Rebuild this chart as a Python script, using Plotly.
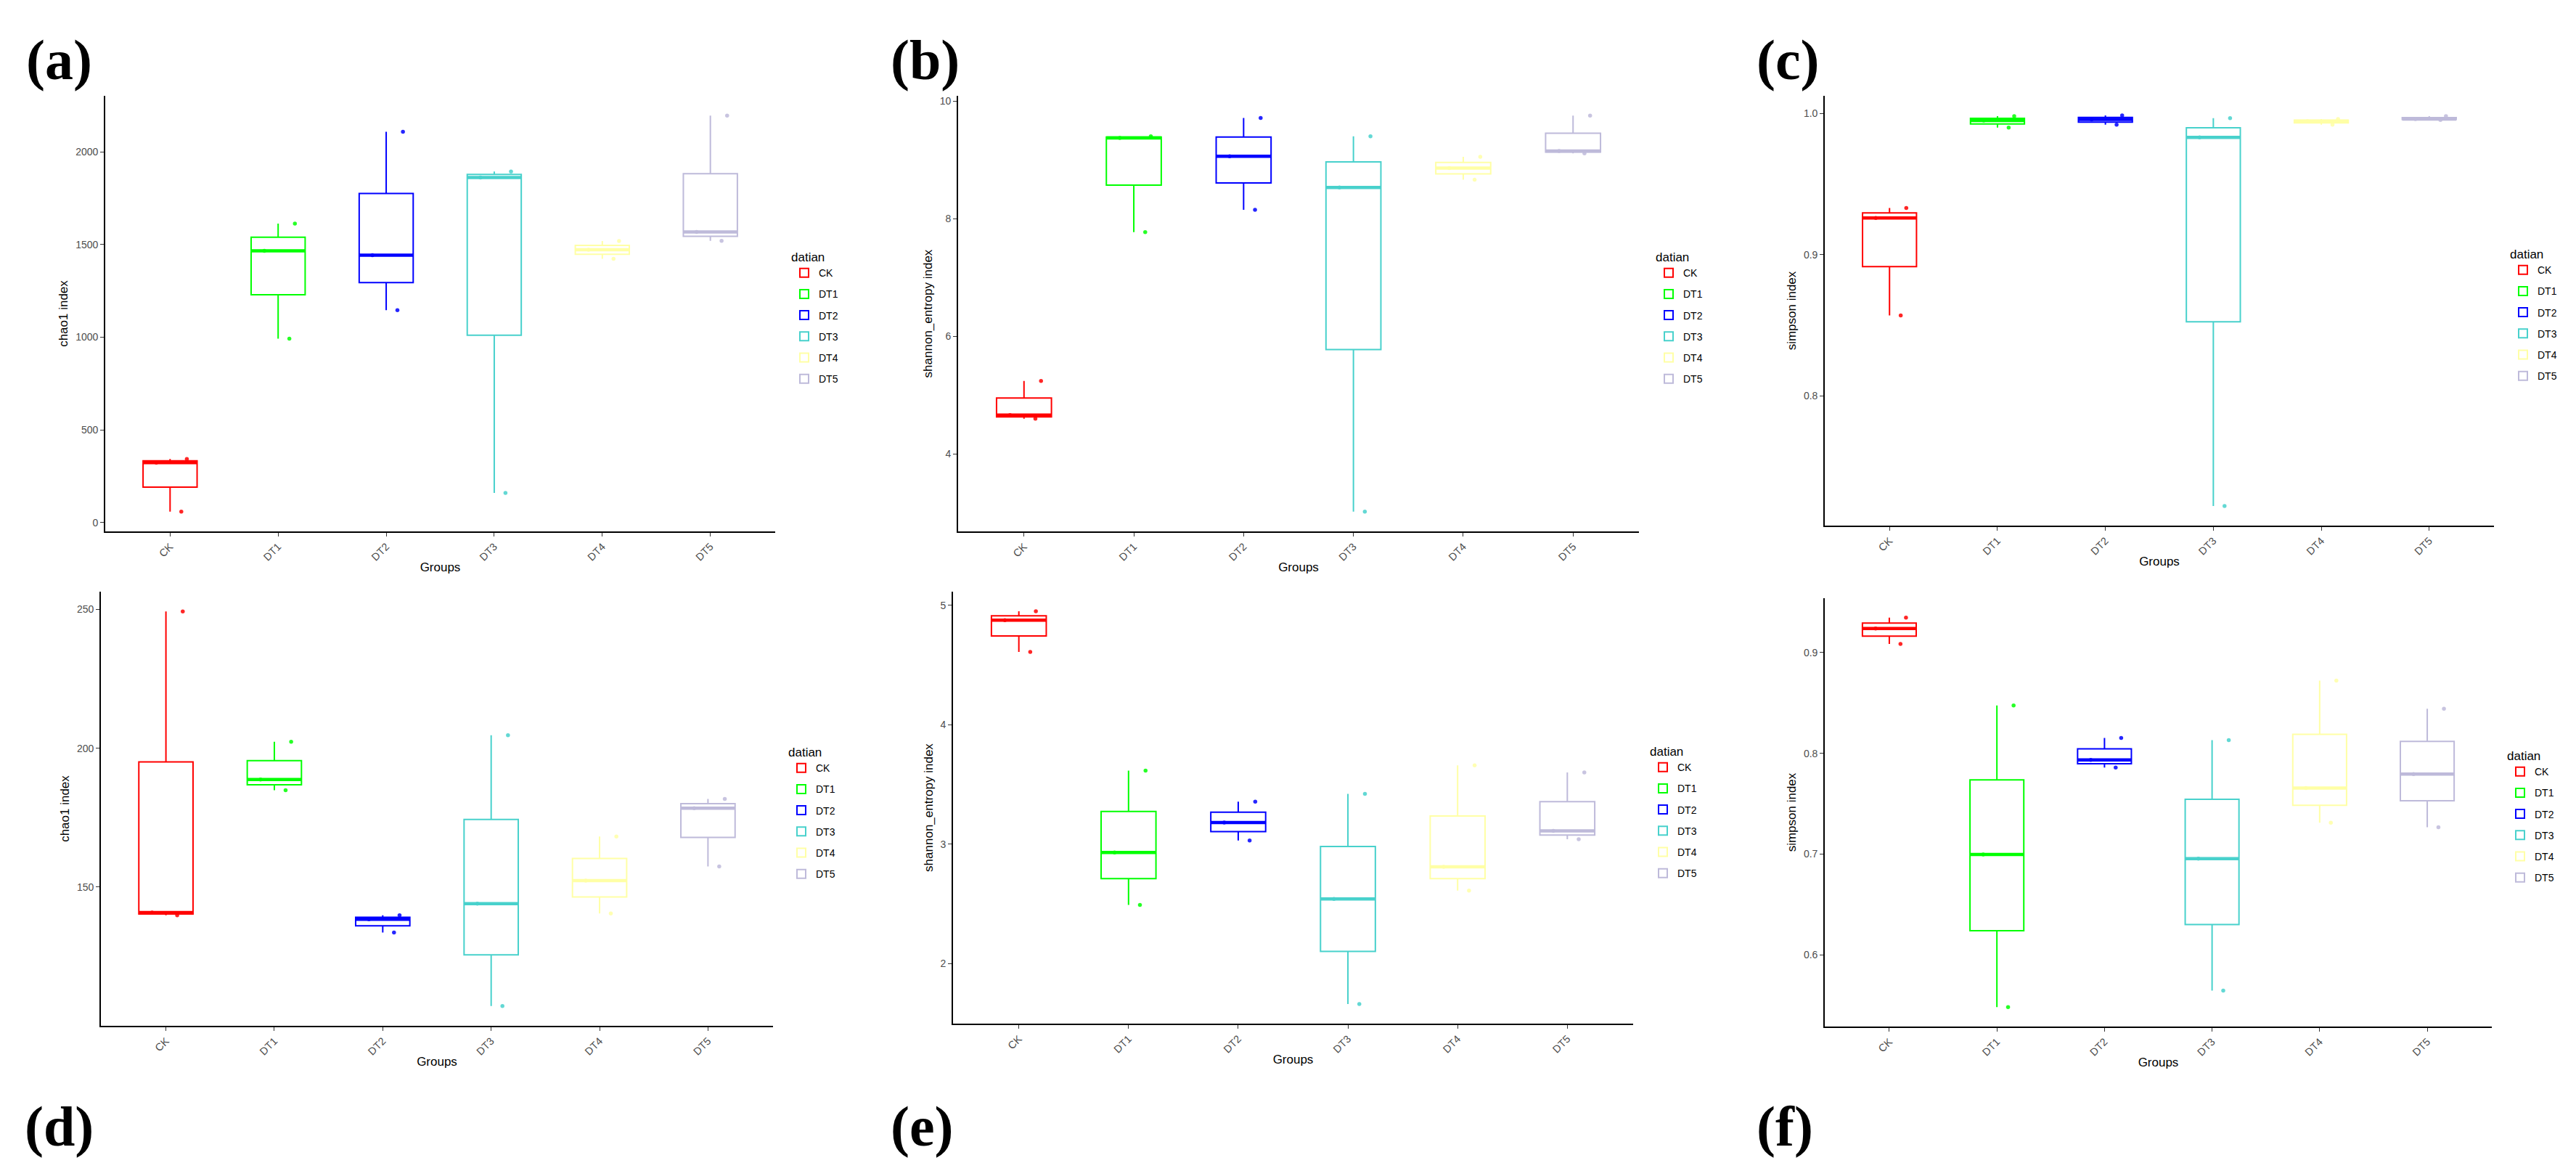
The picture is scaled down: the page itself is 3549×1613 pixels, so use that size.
import numpy as np
import plotly.graph_objects as go

# ---------------- data ----------------
groups = ["CK", "DT1", "DT2", "DT3", "DT4", "DT5"]
colors = ["#FF0000", "#00FF00", "#0000FF", "#48D1CC", "#FFFFA6", "#BEBADA"]

# three samples per group (min, median, max)
chao1_a = [[59, 323, 343], [992, 1466, 1613], [1146, 1442, 2108],
           [160, 1861, 1894], [1423, 1472, 1519], [1520, 1568, 2195]]
shannon_b = [[4.60, 4.66, 5.24], [7.77, 9.37, 9.40], [8.15, 9.06, 9.71],
             [3.02, 8.53, 9.40], [8.66, 8.86, 9.05], [9.11, 9.15, 9.75]]
simpson_c = [[0.857, 0.926, 0.933], [0.990, 0.995, 0.998], [0.992, 0.9957, 0.9986],
             [0.722, 0.983, 0.9966], [0.992, 0.9945, 0.996], [0.9954, 0.996, 0.998]]
chao1_d = [[139.8, 140.8, 249.3], [184.9, 188.7, 202.3], [133.6, 138.4, 139.8],
           [107.1, 144.0, 204.7], [140.5, 152.3, 168.2], [157.4, 178.4, 181.7]]
shannon_e = [[4.61, 4.876, 4.95], [2.49, 2.93, 3.615], [3.03, 3.18, 3.355],
             [1.66, 2.54, 3.42], [2.61, 2.81, 3.66], [3.04, 3.11, 3.60]]
simpson_f = [[0.9087, 0.924, 0.9347], [0.5482, 0.6997, 0.8476], [0.7859, 0.7936, 0.8154],
             [0.5646, 0.6955, 0.8132], [0.7312, 0.7656, 0.8723], [0.7267, 0.7794, 0.8444]]

panel_data = [chao1_a, shannon_b, simpson_c, chao1_d, shannon_e, simpson_f]
panel_ytitles = ["chao1 index", "shannon_entropy index", "simpson index",
                 "chao1 index", "shannon_entropy index", "simpson index"]
panel_yticks = [[0, 500, 1000, 1500, 2000], [4, 6, 8, 10], [0.8, 0.9, 1.0],
                [150, 200, 250], [2, 3, 4, 5], [0.6, 0.7, 0.8, 0.9]]
panel_yticktext = [["0", "500", "1000", "1500", "2000"], ["4", "6", "8", "10"],
                   ["0.8", "0.9", "1.0"], ["150", "200", "250"], ["2", "3", "4", "5"],
                   ["0.6", "0.7", "0.8", "0.9"]]
panel_labels = ["(a)", "(b)", "(c)", "(d)", "(e)", "(f)"]

# ---------------- layout geometry (pixels) ----------------
W, H = 3549, 1613
# plot area boxes: x0, x1, y0(top), y1(bottom)
boxes = [(137, 1060, 124, 724), (1312, 2250, 124, 724), (2506, 3428, 124, 716),
         (131, 1057, 807, 1405), (1305, 2242, 807, 1402), (2506, 3425, 816, 1406)]
legend_pos = [(1080, 330), (2271, 330), (3448, 326), (1076, 1012), (2263, 1011), (3444, 1017)]
label_pos = [(26, 75), (1217, 75), (2410, 75), (24, 1543), (1217, 1543), (2410, 1543)]

BOXW = 0.5
font_main = "Liberation Sans, Arial, sans-serif"

fig = go.Figure()
layout = dict(width=W, height=H, margin=dict(l=0, r=0, t=0, b=0),
              paper_bgcolor="white", plot_bgcolor="white", showlegend=True,
              boxmode="overlay", font=dict(family=font_main, color="black"))
annotations = []

for p, data in enumerate(panel_data):
    sfx = "" if p == 0 else str(p + 1)
    xa, ya = "x" + sfx, "y" + sfx
    lg = "legend" + sfx
    for i, (g, vals) in enumerate(zip(groups, data)):
        vals = np.array(vals, dtype=float)
        fig.add_trace(go.Box(
            x=[i] * len(vals), y=vals, name=g, xaxis=xa, yaxis=ya,
            legend=lg, legendgroup=f"{g}{p}",
            quartilemethod="inclusive", boxpoints="all", jitter=0.8, pointpos=0,
            width=BOXW, whiskerwidth=0,
            line=dict(color=colors[i], width=2), fillcolor="rgba(255,255,255,0)",
            marker=dict(color=colors[i], size=5.5, opacity=0.85),
            hoverinfo="y"))
        med = float(np.median(vals))
        fig.add_trace(go.Scatter(
            x=[i - BOXW / 2, i + BOXW / 2], y=[med, med], mode="lines",
            line=dict(color=colors[i], width=4.5), xaxis=xa, yaxis=ya,
            showlegend=False, legendgroup=f"{g}{p}", hoverinfo="skip"))

    allv = np.concatenate([np.array(v, dtype=float) for v in data])
    span = allv.max() - allv.min()
    yr = [allv.min() - 0.05 * span, allv.max() + 0.05 * span]

    x0, x1, y0, y1 = boxes[p]
    layout["xaxis" + sfx] = dict(
        domain=[x0 / W, x1 / W], anchor=ya, range=[-0.6, len(groups) - 0.4],
        tickmode="array", tickvals=list(range(len(groups))), ticktext=groups,
        tickangle=-45, ticks="outside", ticklen=5, tickwidth=1.2, tickcolor="#333333",
        showline=True, linecolor="black", linewidth=1.6, showgrid=False, zeroline=False,
        tickfont=dict(size=14.5, color="#4D4D4D", family=font_main),
        title=dict(text="Groups", font=dict(size=17, color="black"), standoff=1),
        automargin=False)
    layout["yaxis" + sfx] = dict(
        domain=[1 - y1 / H, 1 - y0 / H], anchor=xa, range=yr,
        tickmode="array", tickvals=panel_yticks[p], ticktext=panel_yticktext[p],
        ticks="outside", ticklen=5, tickwidth=1.2, tickcolor="#333333",
        showline=True, linecolor="black", linewidth=1.6, showgrid=False, zeroline=False,
        tickfont=dict(size=14, color="#4D4D4D", family=font_main),
        title=dict(text=panel_ytitles[p], font=dict(size=17, color="black"), standoff=6),
        automargin=False)
    lx, ly = legend_pos[p]
    layout[lg] = dict(
        x=lx / W, y=1 - ly / H, xanchor="left", yanchor="top",
        xref="paper", yref="paper", bgcolor="rgba(0,0,0,0)",
        title=dict(text="datian", font=dict(size=17, color="black")),
        font=dict(size=14, color="black"), tracegroupgap=8, itemwidth=30,
        traceorder="grouped")
    tx, ty = label_pos[p]
    annotations.append(dict(
        text="<b>" + panel_labels[p] + "</b>", x=tx / W, y=1 - ty / H,
        xref="paper", yref="paper", xanchor="left", yanchor="middle", showarrow=False,
        font=dict(family="Liberation Serif, Times New Roman, serif", size=78, color="black")))

layout["annotations"] = annotations
fig.update_layout(**layout)
fig.write_html("out.html")
